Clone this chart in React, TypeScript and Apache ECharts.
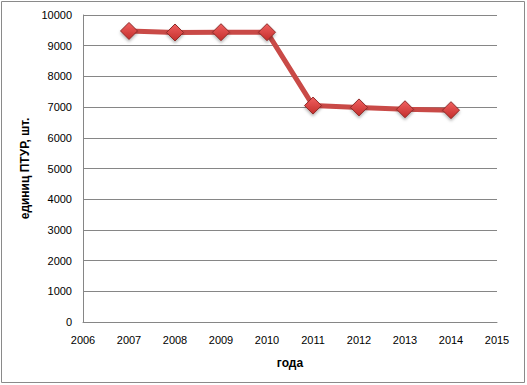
import React, { useEffect, useRef } from "react";
import * as echarts from "echarts";

const years = [2007, 2008, 2009, 2010, 2011, 2012, 2013, 2014];
const units = [9480, 9430, 9440, 9440, 7050, 6990, 6930, 6900];
const yAxisTitle = "единиц ПТУР, шт.";
const xAxisTitle = "года";

export default function App() {
  const ref = useRef<HTMLDivElement>(null);
  useEffect(() => {
    if (!ref.current) return;
    const chart = echarts.init(ref.current, undefined, { renderer: "svg" });
    const font = "'Liberation Sans', Arial, sans-serif";
    chart.setOption({
      animation: false,
      backgroundColor: "#ffffff",
      graphic: [
        {
          type: "rect",
          shape: { x: 1.5, y: 1.5, width: 523, height: 381 },
          style: { fill: "none", stroke: "#8a8a8a", lineWidth: 1 },
          silent: true,
        },
      ],
      grid: { left: 83, right: 30, top: 15, bottom: 63 },
      xAxis: {
        type: "value",
        min: 2006,
        max: 2015,
        interval: 1,
        name: xAxisTitle,
        nameLocation: "middle",
        nameGap: 35,
        nameTextStyle: { fontFamily: font, fontSize: 12, fontWeight: "bold", color: "#000" },
        axisLine: { show: true, lineStyle: { color: "#868686" } },
        axisTick: { show: false },
        splitLine: { show: false },
        axisLabel: {
          color: "#000",
          fontFamily: font,
          fontSize: 11,
          margin: 12,
          formatter: (v: number) => String(v),
        },
      },
      yAxis: {
        type: "value",
        min: 0,
        max: 10000,
        interval: 1000,
        name: yAxisTitle,
        nameLocation: "middle",
        nameGap: 50,
        nameRotate: 90,
        nameTextStyle: { fontFamily: font, fontSize: 12, fontWeight: "bold", color: "#000" },
        axisLine: { show: true, lineStyle: { color: "#868686" } },
        axisTick: { show: false },
        splitLine: { show: true, lineStyle: { color: "#868686", width: 1 } },
        axisLabel: {
          color: "#000",
          fontFamily: font,
          fontSize: 11,
          margin: 11,
          formatter: (v: number) => String(v),
        },
      },
      series: [
        {
          type: "line",
          data: years.map((y, i) => [y, units[i]]),
          symbol: "diamond",
          symbolSize: 17,
          lineStyle: { color: "#c94a47", width: 5 },
          itemStyle: {
            color: new echarts.graphic.LinearGradient(0, 0, 0, 1, [
              { offset: 0, color: "#f06060" },
              { offset: 1, color: "#c42f2c" },
            ]),
            borderColor: "#8e2a28",
            borderWidth: 1,
            shadowColor: "rgba(0,0,0,0.3)",
            shadowBlur: 3,
            shadowOffsetY: 2,
          },
          z: 3,
        },
      ],
    });
    return () => chart.dispose();
  }, []);
  return (
    <div
      ref={ref}
      style={{ position: "fixed", left: 0, top: 0, width: 527, height: 385 }}
    />
  );
}
